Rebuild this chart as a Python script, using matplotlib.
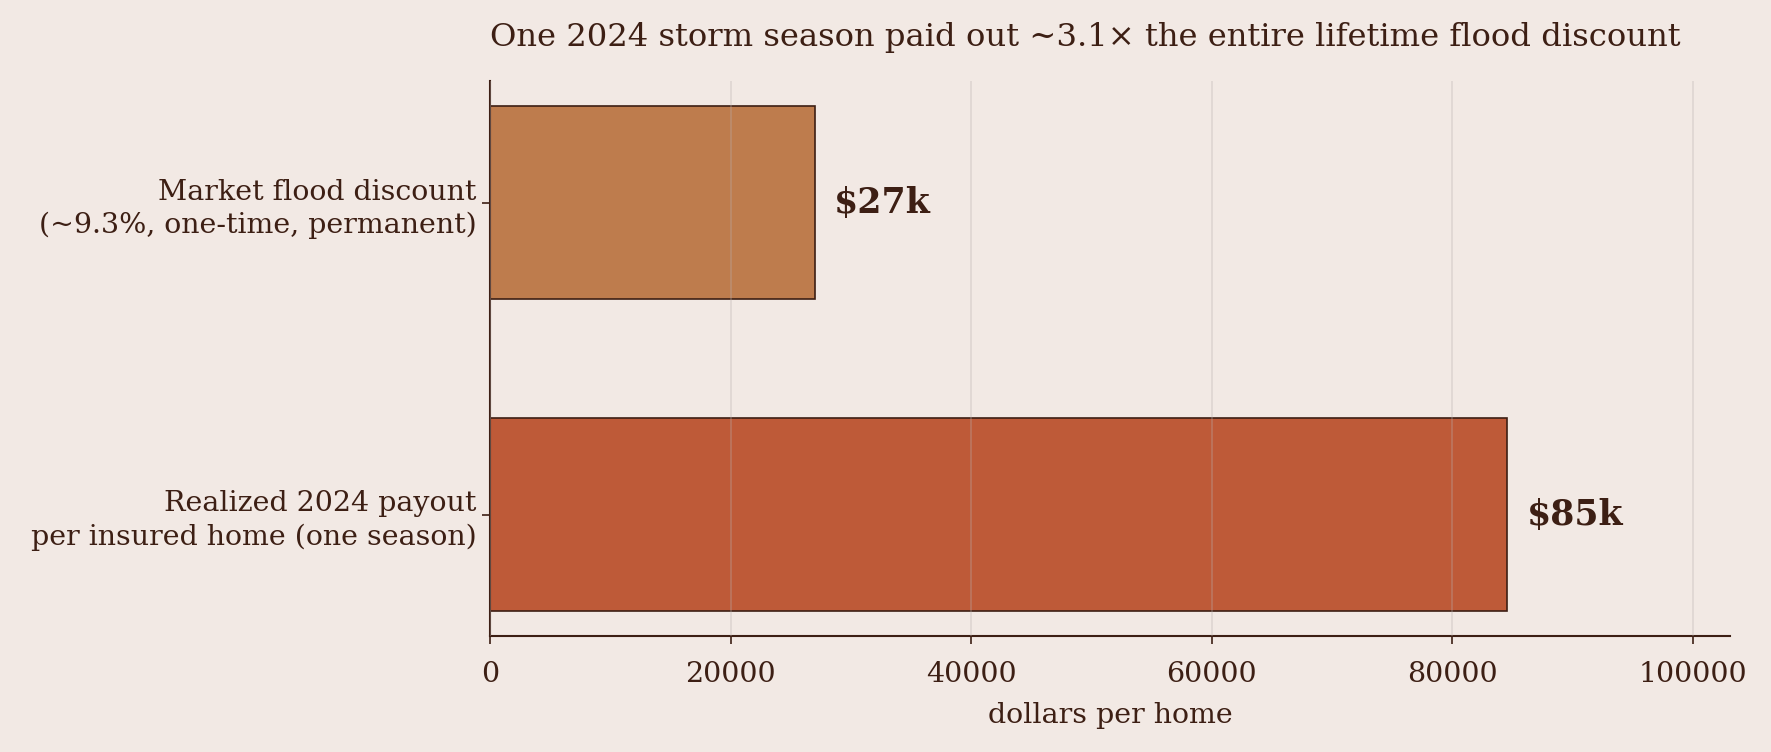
import matplotlib
matplotlib.use('Agg')
import matplotlib.pyplot as plt

# data
labels = ['Market flood discount\n(~9.3%, one-time, permanent)',
          'Realized 2024 payout\nper insured home (one season)']
values = [27000, 84600]
value_text = ['$27k', '$85k']
colors = ['#BE7C4D', '#BE5A38']
xticks = [0, 20000, 40000, 60000, 80000, 100000]

BG = '#F2E9E4'
INK = '#3D1F14'

plt.rcParams['font.family'] = ['DejaVu Serif']
plt.rcParams['text.color'] = INK
plt.rcParams['axes.labelcolor'] = INK
plt.rcParams['xtick.color'] = INK
plt.rcParams['ytick.color'] = INK

fig, ax = plt.subplots(figsize=(17.71, 7.52), dpi=100)
fig.patch.set_facecolor(BG)
ax.set_facecolor(BG)
fig.subplots_adjust(left=0.2767, right=0.9768, top=0.892, bottom=0.154)

ypos = [1, 0]
ax.barh(ypos, values, height=0.62, color=colors, edgecolor=INK, linewidth=1.2, zorder=2)
for y, v, t in zip(ypos, values, value_text):
    ax.annotate(t, (v, y), xytext=(14, 0), textcoords='offset points',
                va='center', ha='left', fontsize=25, fontweight='bold', color=INK)

ax.set_yticks(ypos)
ax.set_yticklabels(labels, fontsize=20.5, linespacing=1.3)
ax.set_xticks(xticks)
ax.set_xticklabels([str(x) for x in xticks], fontsize=20.5)
ax.set_xlim(0, 103100)
ax.set_ylim(-0.39, 1.39)
ax.set_xlabel('dollars per home', fontsize=20.5, labelpad=10)
ax.set_title('One 2024 storm season paid out ~3.1\u00d7 the entire lifetime flood discount',
             fontsize=23.2, color=INK, pad=25, loc='left')

ax.grid(axis='x', color='#B8AFAE', alpha=0.35, linewidth=1.2, zorder=3)
ax.set_axisbelow(False)
for s in ['top', 'right']:
    ax.spines[s].set_visible(False)
for s in ['left', 'bottom']:
    ax.spines[s].set_color(INK)
    ax.spines[s].set_linewidth(1.5)
ax.tick_params(axis='both', length=6, width=1.2)
ax.tick_params(axis='x', pad=12)

plt.savefig('out.png', dpi=100, facecolor=BG)
